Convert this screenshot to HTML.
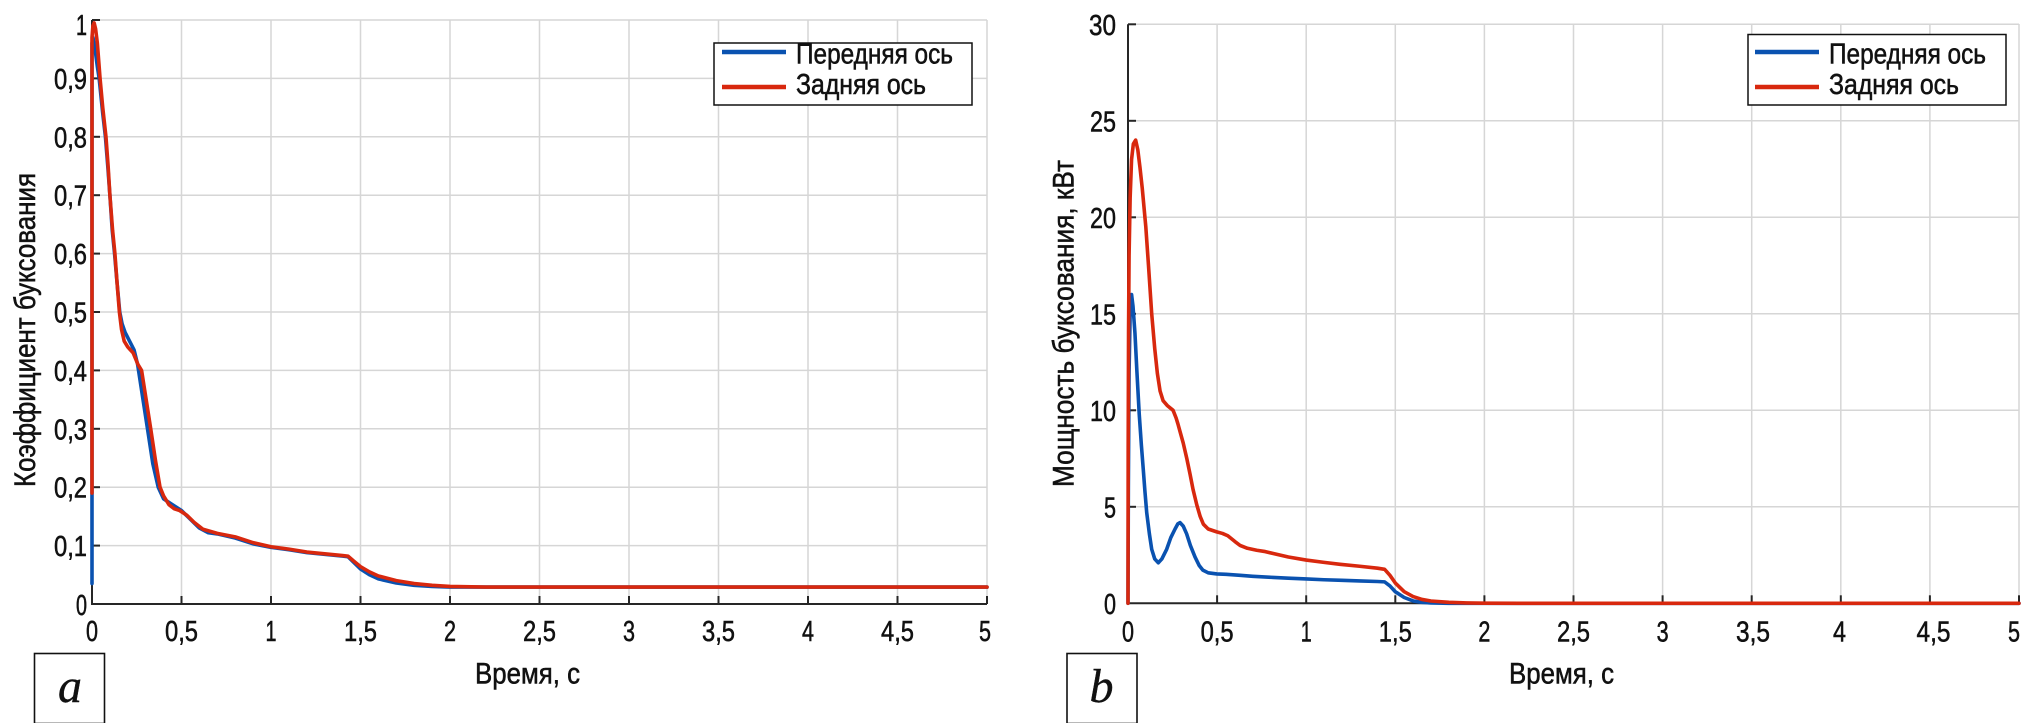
<!DOCTYPE html>
<html>
<head>
<meta charset="utf-8">
<style>
html,body{margin:0;padding:0;background:#fff;}
svg{display:block;}
text{font-family:"Liberation Sans Narrow","Liberation Sans",sans-serif;fill:#111;stroke:#111;stroke-width:0.55px;}
.tk{font-size:29px;}
.lg{font-size:29px;}
.al{font-size:30px;}
.cur{fill:none;stroke-width:3.6;vector-effect:non-scaling-stroke;stroke-linejoin:round;stroke-linecap:round;}
.grid{stroke:#d6d6d6;stroke-width:1.5;}
.ax{stroke:#262626;stroke-width:2;fill:none;}
.let{font-family:"Liberation Serif",serif;font-style:italic;stroke-width:0.4px;}
</style>
</head>
<body>
<svg width="2036" height="723" viewBox="0 0 2036 723" xmlns="http://www.w3.org/2000/svg">
<rect x="0" y="0" width="2036" height="723" fill="#fff"/>

<!-- ================= LEFT PLOT ================= -->
<g class="grid">
  <line x1="181.5" y1="20" x2="181.5" y2="604"/>
  <line x1="271" y1="20" x2="271" y2="604"/>
  <line x1="360.5" y1="20" x2="360.5" y2="604"/>
  <line x1="450" y1="20" x2="450" y2="604"/>
  <line x1="539.5" y1="20" x2="539.5" y2="604"/>
  <line x1="629" y1="20" x2="629" y2="604"/>
  <line x1="718.5" y1="20" x2="718.5" y2="604"/>
  <line x1="808" y1="20" x2="808" y2="604"/>
  <line x1="897.5" y1="20" x2="897.5" y2="604"/>
  <line x1="987" y1="20" x2="987" y2="604"/>
  <line x1="92" y1="545.6" x2="987" y2="545.6"/>
  <line x1="92" y1="487.2" x2="987" y2="487.2"/>
  <line x1="92" y1="428.8" x2="987" y2="428.8"/>
  <line x1="92" y1="370.4" x2="987" y2="370.4"/>
  <line x1="92" y1="312" x2="987" y2="312"/>
  <line x1="92" y1="253.6" x2="987" y2="253.6"/>
  <line x1="92" y1="195.2" x2="987" y2="195.2"/>
  <line x1="92" y1="136.8" x2="987" y2="136.8"/>
  <line x1="92" y1="78.4" x2="987" y2="78.4"/>
  <line x1="92" y1="20" x2="987" y2="20"/>
</g>
<path class="ax" d="M92,20 V604 H987"/>
<g stroke="#262626" stroke-width="2">
  <line x1="181.5" y1="604" x2="181.5" y2="596"/>
  <line x1="271" y1="604" x2="271" y2="596"/>
  <line x1="360.5" y1="604" x2="360.5" y2="596"/>
  <line x1="450" y1="604" x2="450" y2="596"/>
  <line x1="539.5" y1="604" x2="539.5" y2="596"/>
  <line x1="629" y1="604" x2="629" y2="596"/>
  <line x1="718.5" y1="604" x2="718.5" y2="596"/>
  <line x1="808" y1="604" x2="808" y2="596"/>
  <line x1="897.5" y1="604" x2="897.5" y2="596"/>
  <line x1="987" y1="604" x2="987" y2="596"/>
  <line x1="92" y1="545.6" x2="100" y2="545.6"/>
  <line x1="92" y1="487.2" x2="100" y2="487.2"/>
  <line x1="92" y1="428.8" x2="100" y2="428.8"/>
  <line x1="92" y1="370.4" x2="100" y2="370.4"/>
  <line x1="92" y1="312" x2="100" y2="312"/>
  <line x1="92" y1="253.6" x2="100" y2="253.6"/>
  <line x1="92" y1="195.2" x2="100" y2="195.2"/>
  <line x1="92" y1="136.8" x2="100" y2="136.8"/>
  <line x1="92" y1="78.4" x2="100" y2="78.4"/>
  <line x1="92" y1="20" x2="100" y2="20"/>
</g>

<g transform="translate(92,604) scale(179,-584)">
  <polyline class="cur" stroke="#0a52b0" points="0,0.035 0,0.96 0.005,0.97 0.015,0.955 0.03,0.92 0.04,0.9 0.06,0.84 0.075,0.8 0.088,0.75 0.1,0.7 0.113,0.64 0.126,0.6 0.14,0.55 0.155,0.5 0.168,0.48 0.185,0.465 0.21,0.45 0.235,0.435 0.255,0.41 0.27,0.38 0.29,0.34 0.315,0.29 0.34,0.24 0.37,0.2 0.4,0.18 0.45,0.17 0.5,0.16 0.55,0.145 0.6,0.13 0.65,0.122 0.7,0.12 0.8,0.113 0.9,0.103 1.0,0.097 1.1,0.093 1.2,0.088 1.3,0.085 1.4,0.082 1.43,0.081 1.46,0.072 1.5,0.06 1.55,0.05 1.6,0.043 1.7,0.036 1.8,0.032 1.9,0.03 2.0,0.029 5,0.029"/>
  <polyline class="cur" stroke="#d8280e" points="0,0.19 0,0.97 0.005,0.99 0.012,0.995 0.02,0.985 0.03,0.96 0.045,0.9 0.06,0.85 0.078,0.8 0.09,0.75 0.1,0.7 0.115,0.64 0.128,0.6 0.14,0.55 0.153,0.5 0.165,0.47 0.18,0.45 0.2,0.44 0.23,0.43 0.257,0.41 0.277,0.4 0.3,0.355 0.328,0.3 0.355,0.245 0.38,0.2 0.4,0.185 0.43,0.17 0.46,0.163 0.49,0.16 0.53,0.152 0.57,0.14 0.62,0.128 0.7,0.121 0.8,0.115 0.9,0.105 1.0,0.098 1.1,0.094 1.2,0.089 1.3,0.086 1.4,0.083 1.43,0.082 1.46,0.074 1.5,0.064 1.55,0.055 1.6,0.048 1.7,0.04 1.8,0.035 1.9,0.032 2.0,0.03 2.2,0.029 2.5,0.029 5,0.029"/>
</g>

<!-- left tick labels -->
<g class="tk" text-anchor="end">
  <text x="87" y="615" textLength="11" lengthAdjust="spacingAndGlyphs">0</text>
  <text x="87" y="556.1" textLength="33" lengthAdjust="spacingAndGlyphs">0,1</text>
  <text x="87" y="497.7" textLength="33" lengthAdjust="spacingAndGlyphs">0,2</text>
  <text x="87" y="439.3" textLength="33" lengthAdjust="spacingAndGlyphs">0,3</text>
  <text x="87" y="380.9" textLength="33" lengthAdjust="spacingAndGlyphs">0,4</text>
  <text x="87" y="322.5" textLength="33" lengthAdjust="spacingAndGlyphs">0,5</text>
  <text x="87" y="264.1" textLength="33" lengthAdjust="spacingAndGlyphs">0,6</text>
  <text x="87" y="205.7" textLength="33" lengthAdjust="spacingAndGlyphs">0,7</text>
  <text x="87" y="147.3" textLength="33" lengthAdjust="spacingAndGlyphs">0,8</text>
  <text x="87" y="88.9" textLength="33" lengthAdjust="spacingAndGlyphs">0,9</text>
  <text x="87" y="35" textLength="11" lengthAdjust="spacingAndGlyphs">1</text>
</g>
<g class="tk" text-anchor="middle">
  <text x="92" y="641" textLength="12" lengthAdjust="spacingAndGlyphs">0</text>
  <text x="181.5" y="641" textLength="33" lengthAdjust="spacingAndGlyphs">0,5</text>
  <text x="271" y="641" textLength="11" lengthAdjust="spacingAndGlyphs">1</text>
  <text x="360.5" y="641" textLength="33" lengthAdjust="spacingAndGlyphs">1,5</text>
  <text x="450" y="641" textLength="12" lengthAdjust="spacingAndGlyphs">2</text>
  <text x="539.5" y="641" textLength="33" lengthAdjust="spacingAndGlyphs">2,5</text>
  <text x="629" y="641" textLength="12" lengthAdjust="spacingAndGlyphs">3</text>
  <text x="718.5" y="641" textLength="33" lengthAdjust="spacingAndGlyphs">3,5</text>
  <text x="808" y="641" textLength="12" lengthAdjust="spacingAndGlyphs">4</text>
  <text x="897.5" y="641" textLength="33" lengthAdjust="spacingAndGlyphs">4,5</text>
  <text x="985" y="641" textLength="12" lengthAdjust="spacingAndGlyphs">5</text>
</g>
<text class="al" x="527.5" y="683.5" text-anchor="middle" textLength="105" lengthAdjust="spacingAndGlyphs">Время, с</text>
<text class="al" transform="translate(35,330) rotate(-90)" x="0" y="0" text-anchor="middle" textLength="314" lengthAdjust="spacingAndGlyphs">Коэффициент буксования</text>

<!-- left legend -->
<rect x="714" y="43" width="258" height="62" fill="#fff" stroke="#111" stroke-width="1.5"/>
<line x1="722" y1="52" x2="786" y2="52" stroke="#0a52b0" stroke-width="4.5"/>
<line x1="722" y1="87" x2="786" y2="87" stroke="#d8280e" stroke-width="4.5"/>
<text class="lg" x="796" y="63.5" textLength="157" lengthAdjust="spacingAndGlyphs">Передняя ось</text>
<text class="lg" x="796" y="94" textLength="130" lengthAdjust="spacingAndGlyphs">Задняя ось</text>

<!-- a box -->
<rect x="34.5" y="653.5" width="70" height="70" fill="#fff" stroke="#111" stroke-width="1.6"/>
<text class="let" x="70" y="702" text-anchor="middle" font-size="48">a</text>

<!-- ================= RIGHT PLOT ================= -->
<g class="grid">
  <line x1="1217.1" y1="24" x2="1217.1" y2="603.3"/>
  <line x1="1306.2" y1="24" x2="1306.2" y2="603.3"/>
  <line x1="1395.3" y1="24" x2="1395.3" y2="603.3"/>
  <line x1="1484.4" y1="24" x2="1484.4" y2="603.3"/>
  <line x1="1573.5" y1="24" x2="1573.5" y2="603.3"/>
  <line x1="1662.6" y1="24" x2="1662.6" y2="603.3"/>
  <line x1="1751.7" y1="24" x2="1751.7" y2="603.3"/>
  <line x1="1840.8" y1="24" x2="1840.8" y2="603.3"/>
  <line x1="1929.9" y1="24" x2="1929.9" y2="603.3"/>
  <line x1="2019" y1="24" x2="2019" y2="603.3"/>
  <line x1="1128" y1="506.8" x2="2019" y2="506.8"/>
  <line x1="1128" y1="410.3" x2="2019" y2="410.3"/>
  <line x1="1128" y1="313.8" x2="2019" y2="313.8"/>
  <line x1="1128" y1="217.3" x2="2019" y2="217.3"/>
  <line x1="1128" y1="120.8" x2="2019" y2="120.8"/>
  <line x1="1128" y1="24.3" x2="2019" y2="24.3"/>
</g>
<path class="ax" d="M1128,24.3 V603.3 H2019"/>
<g stroke="#262626" stroke-width="2">
  <line x1="1217.1" y1="603.3" x2="1217.1" y2="595.3"/>
  <line x1="1306.2" y1="603.3" x2="1306.2" y2="595.3"/>
  <line x1="1395.3" y1="603.3" x2="1395.3" y2="595.3"/>
  <line x1="1484.4" y1="603.3" x2="1484.4" y2="595.3"/>
  <line x1="1573.5" y1="603.3" x2="1573.5" y2="595.3"/>
  <line x1="1662.6" y1="603.3" x2="1662.6" y2="595.3"/>
  <line x1="1751.7" y1="603.3" x2="1751.7" y2="595.3"/>
  <line x1="1840.8" y1="603.3" x2="1840.8" y2="595.3"/>
  <line x1="1929.9" y1="603.3" x2="1929.9" y2="595.3"/>
  <line x1="2019" y1="603.3" x2="2019" y2="595.3"/>
  <line x1="1128" y1="506.8" x2="1136" y2="506.8"/>
  <line x1="1128" y1="410.3" x2="1136" y2="410.3"/>
  <line x1="1128" y1="313.8" x2="1136" y2="313.8"/>
  <line x1="1128" y1="217.3" x2="1136" y2="217.3"/>
  <line x1="1128" y1="120.8" x2="1136" y2="120.8"/>
  <line x1="1128" y1="24.3" x2="1136" y2="24.3"/>
</g>

<g transform="translate(1128,603.3) scale(178.2,-19.3)">
  <polyline class="cur" stroke="#0a52b0" points="0,0 0.002,6 0.006,12 0.012,15 0.02,16 0.028,15.4 0.039,14 0.05,12 0.063,9.8 0.075,8.2 0.086,6.9 0.095,5.8 0.105,4.7 0.12,3.6 0.133,2.8 0.15,2.3 0.17,2.1 0.19,2.3 0.217,2.8 0.24,3.4 0.264,3.85 0.28,4.12 0.292,4.18 0.31,4.0 0.329,3.6 0.35,3.0 0.376,2.4 0.4,1.95 0.42,1.72 0.45,1.58 0.498,1.52 0.55,1.5 0.629,1.45 0.7,1.4 0.815,1.34 0.9,1.3 1.0,1.26 1.1,1.22 1.2,1.19 1.3,1.16 1.4,1.13 1.44,1.11 1.47,0.9 1.5,0.6 1.55,0.3 1.6,0.12 1.65,0.05 1.7,0.02 1.8,0 5,0"/>
  <polyline class="cur" stroke="#d8280e" points="0,0 0.001,8 0.003,14 0.006,18 0.012,21 0.02,23 0.03,23.8 0.043,24 0.055,23.5 0.067,22.6 0.08,21.5 0.1,19.5 0.115,17.5 0.133,15 0.15,13.2 0.165,11.9 0.18,11 0.197,10.5 0.22,10.25 0.253,10.0 0.27,9.6 0.28,9.3 0.295,8.8 0.31,8.3 0.33,7.5 0.348,6.7 0.365,5.9 0.386,5.1 0.405,4.5 0.423,4.1 0.45,3.85 0.498,3.7 0.53,3.62 0.56,3.5 0.6,3.2 0.629,3.0 0.67,2.85 0.722,2.75 0.77,2.68 0.815,2.58 0.9,2.4 1.0,2.24 1.1,2.12 1.19,2.02 1.3,1.92 1.4,1.82 1.44,1.76 1.47,1.45 1.5,1.05 1.55,0.6 1.6,0.35 1.65,0.2 1.7,0.12 1.8,0.05 1.9,0.02 2.0,0.005 2.2,0 5,0"/>
</g>

<!-- right tick labels -->
<g class="tk" text-anchor="end">
  <text x="1116" y="614" textLength="12" lengthAdjust="spacingAndGlyphs">0</text>
  <text x="1116" y="517.3" textLength="12" lengthAdjust="spacingAndGlyphs">5</text>
  <text x="1116" y="420.8" textLength="26" lengthAdjust="spacingAndGlyphs">10</text>
  <text x="1116" y="324.3" textLength="26" lengthAdjust="spacingAndGlyphs">15</text>
  <text x="1116" y="227.8" textLength="26" lengthAdjust="spacingAndGlyphs">20</text>
  <text x="1116" y="131.3" textLength="26" lengthAdjust="spacingAndGlyphs">25</text>
  <text x="1116" y="35" textLength="27" lengthAdjust="spacingAndGlyphs">30</text>
</g>
<g class="tk" text-anchor="middle">
  <text x="1128" y="641.5" textLength="12" lengthAdjust="spacingAndGlyphs">0</text>
  <text x="1217.1" y="641.5" textLength="33" lengthAdjust="spacingAndGlyphs">0,5</text>
  <text x="1306.2" y="641.5" textLength="11" lengthAdjust="spacingAndGlyphs">1</text>
  <text x="1395.3" y="641.5" textLength="33" lengthAdjust="spacingAndGlyphs">1,5</text>
  <text x="1484.4" y="641.5" textLength="12" lengthAdjust="spacingAndGlyphs">2</text>
  <text x="1573.5" y="641.5" textLength="33" lengthAdjust="spacingAndGlyphs">2,5</text>
  <text x="1662.6" y="641.5" textLength="12" lengthAdjust="spacingAndGlyphs">3</text>
  <text x="1753" y="641.5" textLength="34" lengthAdjust="spacingAndGlyphs">3,5</text>
  <text x="1839.5" y="641.5" textLength="13" lengthAdjust="spacingAndGlyphs">4</text>
  <text x="1933.5" y="641.5" textLength="34" lengthAdjust="spacingAndGlyphs">4,5</text>
  <text x="2014" y="641.5" textLength="12" lengthAdjust="spacingAndGlyphs">5</text>
</g>
<text class="al" x="1561.5" y="683.5" text-anchor="middle" textLength="105" lengthAdjust="spacingAndGlyphs">Время, с</text>
<text class="al" transform="translate(1073.5,323.5) rotate(-90)" x="0" y="0" text-anchor="middle" textLength="327" lengthAdjust="spacingAndGlyphs">Мощность буксования, кВт</text>

<!-- right legend -->
<rect x="1748" y="34.5" width="258" height="70.5" fill="#fff" stroke="#111" stroke-width="1.5"/>
<line x1="1755" y1="52" x2="1819" y2="52" stroke="#0a52b0" stroke-width="4.5"/>
<line x1="1755" y1="87" x2="1819" y2="87" stroke="#d8280e" stroke-width="4.5"/>
<text class="lg" x="1829" y="63.5" textLength="157" lengthAdjust="spacingAndGlyphs">Передняя ось</text>
<text class="lg" x="1829" y="94" textLength="130" lengthAdjust="spacingAndGlyphs">Задняя ось</text>

<!-- b box -->
<rect x="1067" y="653.5" width="70" height="70" fill="#fff" stroke="#111" stroke-width="1.6"/>
<text class="let" x="1101.5" y="702" text-anchor="middle" font-size="48">b</text>
</svg>
</body>
</html>
